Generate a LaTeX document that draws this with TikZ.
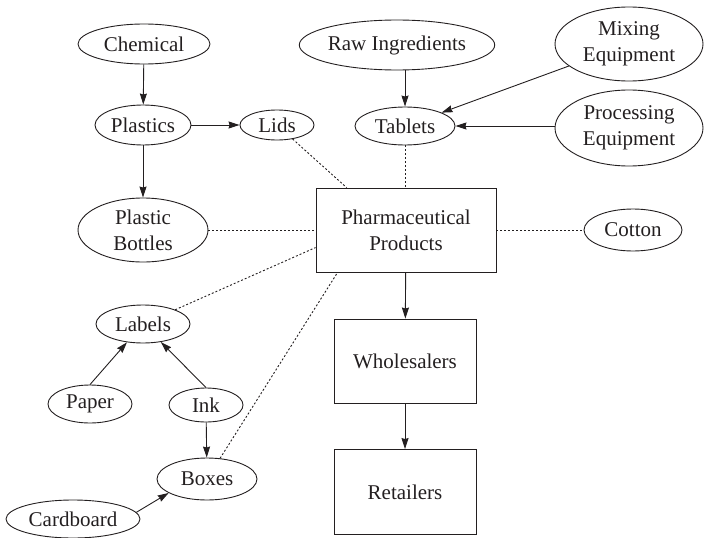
\documentclass[tikz,border=0pt]{standalone}
\usepackage{fontspec}
\setmainfont{Liberation Serif}
\usetikzlibrary{shapes.geometric,arrows.meta,calc}
\definecolor{ink}{HTML}{231F20}
\tikzset{
  oval/.style={ellipse,draw=ink,line width=0.9pt,inner sep=0pt,text=ink,align=center,
    font=\fontsize{21}{26}\selectfont},
  rectbox/.style={rectangle,draw=ink,line width=0.9pt,inner sep=0pt,text=ink,align=center,
    font=\fontsize{21}{26}\selectfont},
  flow/.style={draw=ink,line width=0.9pt,-{Stealth[length=11pt,width=7pt,inset=1pt]}},
  link/.style={draw=ink,line width=0.9pt,dash pattern=on 2pt off 2pt}
}
\begin{document}
\begin{tikzpicture}[x=1pt,y=-1pt]
\useasboundingbox (0,0) rectangle (704,538);

% left-hand supply chain
\node[oval,minimum width=132pt,minimum height=40pt] (chem) at (144,44) {Chemical};
\node[oval,minimum width=96pt,minimum height=40pt] (plast) at (143,125) {Plastics};
\node[oval,minimum width=74pt,minimum height=30pt] (lids) at (277,125) {Lids};
\node[oval,minimum width=130pt,minimum height=64pt] (bottles) at (143,230) {Plastic\\Bottles};

% tablet inputs
\node[oval,minimum width=170pt,minimum height=50pt] (raw) at (397,45) {Raw Ingredients};
\node[oval,minimum width=100pt,minimum height=38pt] (tab) at (405,126) {Tablets};
\node[oval,minimum width=148pt,minimum height=74pt] (mix) at (629,44) {Mixing\\Equipment};
\node[oval,minimum width=148pt,minimum height=76pt] (proc) at (629,128) {Processing\\Equipment};

% central product and distribution
\node[rectbox,minimum width=180pt,minimum height=84pt] (ph) at (406,230) {Pharmaceutical\\Products};
\node[oval,minimum width=98pt,minimum height=42pt] (cotton) at (633,230) {Cotton};
\node[rectbox,minimum width=142pt,minimum height=84pt] (whole) at (405,361) {Wholesalers};
\node[rectbox,minimum width=142pt,minimum height=85pt] (retail) at (405,492) {Retailers};

% packaging
\node[oval,minimum width=94pt,minimum height=38pt] (labels) at (143,324) {Labels};
\node[oval,minimum width=84pt,minimum height=38pt] (paper) at (90,404) {Paper};
\node[oval,minimum width=74pt,minimum height=34pt] (inkn) at (206,405) {Ink};
\node[oval,minimum width=100pt,minimum height=42pt] (boxes) at (207,479) {Boxes};
\node[oval,minimum width=134pt,minimum height=38pt] (card) at (73,519) {Cardboard};

% where dotted links meet the product box
\coordinate (phLids) at ($(ph.north west)+(31,0)$);
\coordinate (phLabels) at ($(ph.north west)+(0,60)$);
\coordinate (phBoxes) at ($(ph.south west)+(22,0)$);

% material flows
\draw[flow] (chem) -- (plast);
\draw[flow] (plast) -- (lids);
\draw[flow] (plast) -- (bottles);
\draw[flow] (tab |- raw.south) -- (tab);
\draw[flow] (mix) -- (tab);
\draw[flow] (proc.west |- tab) -- (tab);
\draw[flow] (ph) -- (whole);
\draw[flow] (whole) -- (retail);
\draw[flow] (paper.north) -- (labels);
\draw[flow] (inkn.north) -- (labels);
\draw[flow] (inkn) -- (boxes);
\draw[flow] (card.6) -- (boxes.200);

% components of the product
\draw[link] (lids) -- (phLids);
\draw[link] (tab.south) -- (tab.south |- ph.north);
\draw[link] (bottles.east) -- (bottles.east -| ph.west);
\draw[link] (ph.east) -- (ph.east -| cotton.west);
\draw[link] (labels) -- (phLabels);
\draw[link] (boxes) -- (phBoxes);
\end{tikzpicture}
\end{document}
